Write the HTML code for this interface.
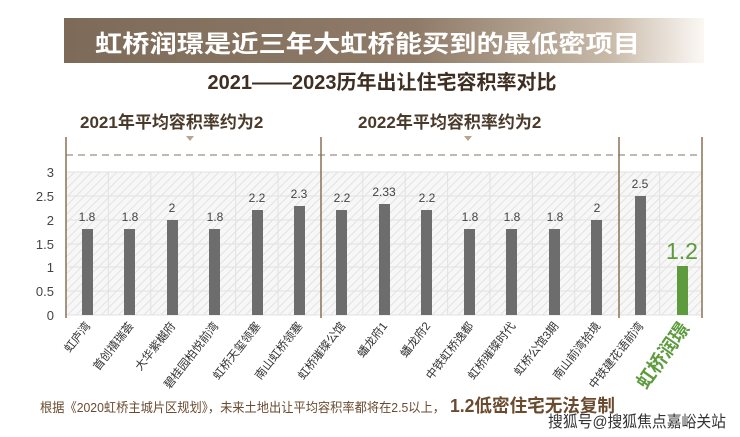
<!DOCTYPE html>
<html><head><meta charset="utf-8"><style>
body{margin:0;background:#fff;width:740px;height:437px;overflow:hidden}
svg{display:block}
text{font-family:"Liberation Sans","Noto Sans CJK SC",sans-serif}
</style></head><body>
<svg width="740" height="437" viewBox="0 0 740 437" xmlns="http://www.w3.org/2000/svg">
<defs>
<linearGradient id="bn" x1="0" x2="1" y1="0" y2="0">
<stop offset="0" stop-color="#7d6a58"/><stop offset="0.55" stop-color="#8f7b68"/><stop offset="0.85" stop-color="#c8b9a8"/><stop offset="1" stop-color="#fbf8f4"/></linearGradient>
<pattern id="h" width="6" height="6" patternUnits="userSpaceOnUse" patternTransform="rotate(45)">
<rect width="6" height="6" fill="#f7f7f7"/><line x1="0" y1="0" x2="0" y2="6" stroke="#dcdcdc" stroke-width="1.5"/></pattern>
</defs>
<rect x="64" y="18" width="640" height="45" fill="url(#bn)"/>
<text x="95" y="52" font-size="24" font-weight="bold" fill="#fff" textLength="545" lengthAdjust="spacingAndGlyphs">虹桥润璟是近三年大虹桥能买到的最低密项目</text>
<text x="382" y="89" font-size="20" font-weight="bold" fill="#3e2f22" text-anchor="middle">2021——2023历年出让住宅容积率对比</text>
<text x="80" y="128" font-size="17" font-weight="bold" fill="#4a3a2a">2021年平均容积率约为2</text>
<text x="358" y="128" font-size="17" font-weight="bold" fill="#4a3a2a">2022年平均容积率约为2</text>
<polygon points="186,136 194,136 190,141" fill="#b9a48c"/>
<polygon points="464,136 472,136 468,141" fill="#b9a48c"/>
<rect x="66" y="172" width="636" height="143" fill="url(#h)"/>
<g stroke="#e2e2e2" stroke-width="1">
<line x1="66" y1="172" x2="702" y2="172"/><line x1="66" y1="196" x2="702" y2="196"/><line x1="66" y1="220" x2="702" y2="220"/><line x1="66" y1="244" x2="702" y2="244"/><line x1="66" y1="267" x2="702" y2="267"/><line x1="66" y1="291" x2="702" y2="291"/><line x1="66" y1="315" x2="702" y2="315"/>
<line x1="108.4" y1="172" x2="108.4" y2="315"/><line x1="150.8" y1="172" x2="150.8" y2="315"/><line x1="193.2" y1="172" x2="193.2" y2="315"/><line x1="235.6" y1="172" x2="235.6" y2="315"/><line x1="278" y1="172" x2="278" y2="315"/><line x1="362.8" y1="172" x2="362.8" y2="315"/><line x1="405.2" y1="172" x2="405.2" y2="315"/><line x1="447.6" y1="172" x2="447.6" y2="315"/><line x1="490" y1="172" x2="490" y2="315"/><line x1="532.4" y1="172" x2="532.4" y2="315"/><line x1="574.8" y1="172" x2="574.8" y2="315"/><line x1="659.6" y1="172" x2="659.6" y2="315"/><line x1="702" y1="172" x2="702" y2="315"/>
</g>
<line x1="66" y1="155" x2="702" y2="155" stroke="#9a8f82" stroke-width="1.3" stroke-dasharray="7,5"/>
<g stroke="#8a7255" stroke-width="1.5">
<line x1="66" y1="137" x2="66" y2="318"/><line x1="321" y1="137" x2="321" y2="318"/><line x1="619" y1="137" x2="619" y2="318"/><line x1="702" y1="137" x2="702" y2="318"/>
</g>
<g font-size="13" fill="#444" text-anchor="end">
<text x="54" y="177">3</text><text x="54" y="201">2.5</text><text x="54" y="225">2</text><text x="54" y="249">1.5</text><text x="54" y="272">1</text><text x="54" y="296">0.5</text><text x="54" y="320">0</text>
</g>
<g fill="#6d6d6d">
<rect x="82" y="229" width="11" height="86"/>
<rect x="124" y="229" width="11" height="86"/>
<rect x="167" y="220" width="11" height="95"/>
<rect x="209" y="229" width="11" height="86"/>
<rect x="252" y="210" width="11" height="105"/>
<rect x="294" y="206" width="11" height="109"/>
<rect x="336" y="210" width="11" height="105"/>
<rect x="379" y="204" width="11" height="111"/>
<rect x="421" y="210" width="11" height="105"/>
<rect x="464" y="229" width="11" height="86"/>
<rect x="506" y="229" width="11" height="86"/>
<rect x="549" y="229" width="11" height="86"/>
<rect x="591" y="220" width="11" height="95"/>
<rect x="635" y="196" width="11" height="119"/>
</g>
<rect x="677" y="266" width="11" height="49" fill="#5d9b3e"/>
<g font-size="12" fill="#444" text-anchor="middle">
<text x="87" y="221">1.8</text><text x="130" y="221">1.8</text><text x="172" y="212">2</text><text x="215" y="221">1.8</text><text x="257" y="202">2.2</text><text x="299" y="198">2.3</text><text x="342" y="202">2.2</text><text x="384" y="196">2.33</text><text x="427" y="202">2.2</text><text x="470" y="221">1.8</text><text x="512" y="221">1.8</text><text x="555" y="221">1.8</text><text x="597" y="212">2</text><text x="640" y="188">2.5</text>
</g>
<text x="682" y="259" font-size="23" fill="#5d9b3e" text-anchor="middle">1.2</text>
<g font-size="11.5" fill="#333" text-anchor="end">
<text transform="translate(91,326) rotate(-52)">虹庐湾</text>
<text transform="translate(134,326) rotate(-52)">首创禧瑞荟</text>
<text transform="translate(176,326) rotate(-52)">大华紫樾府</text>
<text transform="translate(219,326) rotate(-52)">碧桂园柏悦前湾</text>
<text transform="translate(261,326) rotate(-52)">虹桥天玺领塞</text>
<text transform="translate(303,326) rotate(-52)">南山虹桥领塞</text>
<text transform="translate(346,326) rotate(-52)">虹桥璀璨公馆</text>
<text transform="translate(388,326) rotate(-52)">蟠龙府1</text>
<text transform="translate(431,326) rotate(-52)">蟠龙府2</text>
<text transform="translate(474,326) rotate(-52)">中铁虹桥逸都</text>
<text transform="translate(516,326) rotate(-52)">虹桥璀璨时代</text>
<text transform="translate(559,326) rotate(-52)">虹桥公馆3期</text>
<text transform="translate(601,326) rotate(-52)">南山前湾拾境</text>
<text transform="translate(644,326) rotate(-52)">中铁建花语前湾</text>
</g>
<text transform="translate(690,328) rotate(-55)" font-size="19" font-weight="bold" fill="#5d9b3e" text-anchor="end">虹桥润璟</text>
<text x="40" y="412" font-size="13" fill="#6a4b2e" textLength="405" lengthAdjust="spacingAndGlyphs">根据《2020虹桥主城片区规划》，未来土地出让平均容积率都将在2.5以上，</text>
<text x="450" y="412" font-size="18" font-weight="bold" fill="#6a4b2e" textLength="165" lengthAdjust="spacingAndGlyphs">1.2低密住宅无法复制</text>
<text x="548" y="427" font-size="16" fill="#333" stroke="#fff" stroke-width="0.6" paint-order="stroke" textLength="178" lengthAdjust="spacingAndGlyphs">搜狐号@搜狐焦点嘉峪关站</text>
</svg>
</body></html>
